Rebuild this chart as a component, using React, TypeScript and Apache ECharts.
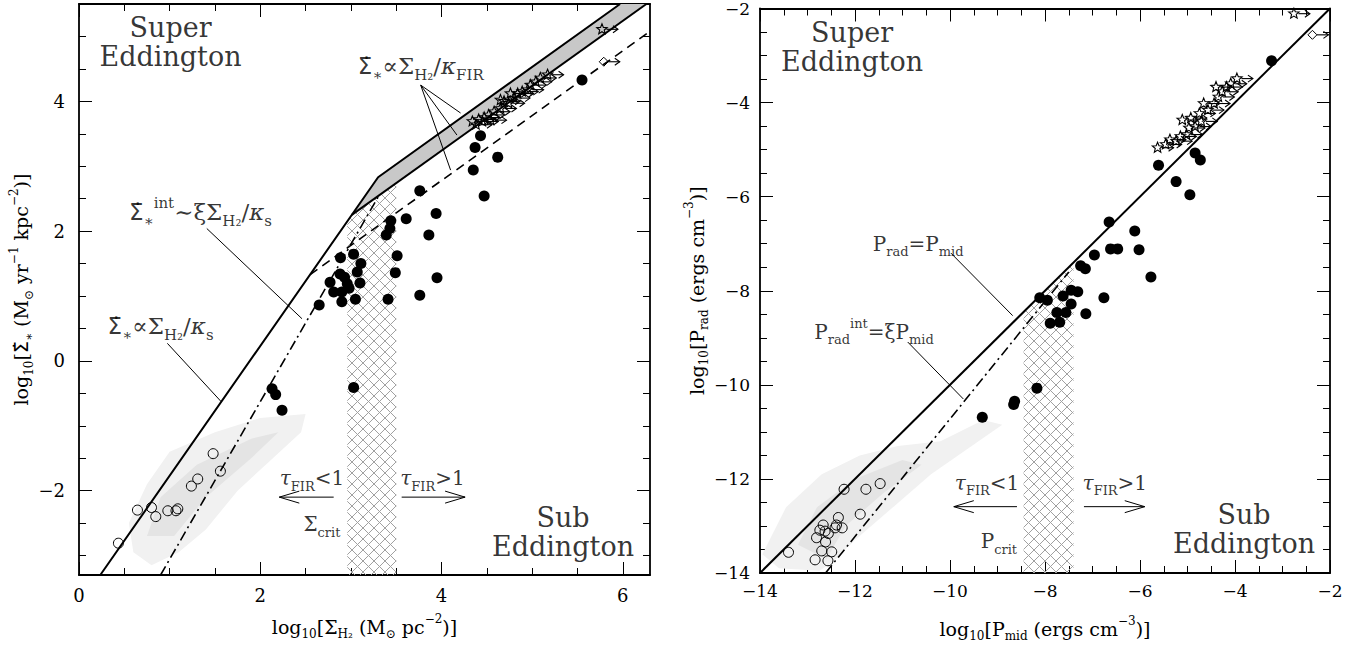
import React, { useEffect, useRef } from 'react';
import * as echarts from 'echarts';

// ---------------- LEFT PANEL DATA ----------------
const leftXMajor = [0, 2, 4, 6];
const leftXMinor = [0.5, 1, 1.5, 2.5, 3, 3.5, 4.5, 5, 5.5];
const leftYMajor = [-2, 0, 2, 4];
const leftYMinor = [-3, -2.5, -1.5, -1, -0.5, 0.5, 1, 1.5, 2.5, 3, 3.5, 4.5, 5];

const leftFilled = [
  [2.65, 0.86], [2.77, 1.21], [2.81, 1.06], [2.88, 1.34], [2.885, 1.59], [2.9, 0.91], [2.9, 1.06],
  [2.93, 1.29], [2.96, 1.19], [2.98, 1.12], [3.03, 1.645], [3.05, 0.95], [3.07, 1.37], [3.1, 1.2],
  [3.11, 1.5], [3.39, 1.94], [3.43, 2.04], [3.44, 2.16], [3.49, 1.36], [3.51, 1.62], [3.41, 0.95],
  [3.61, 2.19], [3.76, 2.62], [3.76, 1.01], [3.86, 1.94], [3.94, 2.27], [3.95, 1.28], [4.35, 2.94],
  [4.37, 3.29], [4.43, 3.47], [4.47, 2.54], [4.62, 3.14], [5.55, 4.33], [2.13, -0.43], [2.17, -0.52],
  [2.24, -0.76], [3.03, -0.41],
];
const leftOpen = [
  [0.435, -2.81], [0.645, -2.3], [0.8, -2.26], [0.847, -2.4], [0.98, -2.31], [1.07, -2.31],
  [1.09, -2.28], [1.24, -1.93], [1.31, -1.82], [1.48, -1.43], [1.56, -1.7],
];
const leftStars = [
  [4.34, 3.69], [4.41, 3.72], [4.47, 3.75], [4.52, 3.79], [4.58, 3.84], [4.65, 3.89], [4.69, 4.0],
  [4.74, 3.97], [4.8, 4.05], [4.84, 4.12], [4.89, 4.15], [4.95, 4.18], [4.98, 4.25], [5.04, 4.3],
  [5.09, 4.36], [5.17, 4.41], [4.65, 4.02], [4.76, 4.12], [4.54, 3.71], [4.45, 3.69], [4.38, 3.64],
  [5.77, 5.11],
];
const leftDiamonds = [[5.79, 4.61]];

const leftSolid = [[0.235, -3.3], [3.3, 2.83], [5.97, 5.5]];
const leftSolid2 = [[3.01, 2.25], [6.26, 5.5]];
const leftDashed = [[2.55, 1.33], [6.3, 5.08]];
const leftDashDot = [[0.9, -3.3], [3.31, 2.55]];
const leftBand = [[3.01, 2.25], [3.3, 2.83], [5.97, 5.5], [6.26, 5.5]];
const leftHatch = [[2.96, -3.3], [2.96, 2.15], [3.01, 2.25], [3.5, 2.74], [3.5, -3.3]];
const leftCloudOuter = [
  [0.6, -2.95], [0.55, -2.5], [0.75, -1.9], [1.0, -1.4], [1.5, -1.1], [2.0, -0.88], [2.5, -0.82],
  [2.45, -1.1], [2.1, -1.55], [1.75, -2.0], [1.4, -2.6], [1.1, -2.95], [0.8, -3.15],
];
const leftCloudCore = [
  [0.75, -2.7], [0.9, -2.1], [1.3, -1.6], [1.9, -1.2], [2.2, -1.1], [1.9, -1.5], [1.4, -2.1], [1.05, -2.7],
];
const leftPointers = [
  [[3.77, 4.25], [4.21, 3.82]],
  [[3.77, 4.25], [4.17, 3.48]],
  [[3.77, 4.25], [4.1, 2.94]],
  [[1.41, 2.04], [2.46, 0.65]],
  [[0.975, 0.27], [1.57, -0.63]],
];
const leftArrows = [[2.81, -2.1, 2.21, -2.1], [3.56, -2.1, 4.26, -2.1]];

// ---------------- RIGHT PANEL DATA ----------------
const rightMajor = [-14, -12, -10, -8, -6, -4, -2];
const rightMinor = [
  -13.5, -13, -12.5, -11.5, -11, -10.5, -9.5, -9, -8.5, -7.5, -7, -6.5, -5.5, -5, -4.5, -3.5, -3, -2.5,
];
const rightFilled = [
  [-3.23, -3.11], [-5.61, -5.33], [-4.84, -5.07], [-4.73, -5.22], [-5.24, -5.68], [-4.95, -5.96],
  [-6.65, -6.54], [-6.11, -6.73], [-6.62, -7.11], [-6.47, -7.11], [-6.02, -7.13], [-6.96, -7.24],
  [-7.25, -7.47], [-7.15, -7.53], [-5.77, -7.71], [-7.45, -7.99], [-7.31, -8.02], [-8.11, -8.15],
  [-7.95, -8.2], [-7.62, -8.11], [-6.76, -8.15], [-7.45, -8.28], [-7.14, -8.49], [-7.75, -8.46],
  [-7.56, -8.46], [-7.89, -8.69], [-7.69, -8.67], [-8.17, -10.07], [-8.64, -10.35], [-8.66, -10.42],
  [-9.32, -10.69],
];
const rightOpen = [
  [-13.4, -13.56], [-12.23, -12.22], [-11.77, -12.22], [-11.47, -12.1], [-11.89, -12.75], [-12.35, -12.82],
  [-12.67, -12.98], [-12.42, -13.04], [-12.27, -13.04], [-12.74, -13.09], [-12.56, -13.16], [-12.81, -13.25],
  [-12.62, -13.34], [-12.7, -13.53], [-12.49, -13.55], [-12.84, -13.72], [-12.57, -13.74], [-12.63, -13.11],
  [-12.39, -12.98],
];
const rightStars = [
  [-5.63, -4.96], [-5.46, -4.89], [-5.37, -4.79], [-5.24, -4.82], [-5.15, -4.72], [-5.02, -4.68],
  [-4.97, -4.54], [-4.84, -4.51], [-4.71, -4.4], [-4.75, -4.23], [-4.57, -4.16], [-4.44, -4.02],
  [-4.35, -3.88], [-4.27, -3.77], [-4.18, -3.67], [-4.09, -3.6], [-3.96, -3.49], [-4.66, -4.02],
  [-4.4, -3.67], [-5.11, -4.37], [-4.93, -4.33], [-2.76, -2.11],
];
const rightDiamonds = [[-2.37, -2.56]];
const rightSolid = [[-14, -14], [-2, -2]];
const rightDashDot = [[-12.62, -14], [-7.5, -7.6]];
const rightHatch = [[-8.45, -14], [-8.45, -8.45], [-7.4, -7.4], [-7.4, -14]];
const rightCloudOuter = [
  [-13.95, -13.6], [-13.45, -12.6], [-12.7, -11.9], [-11.9, -11.5], [-11.1, -11.3], [-10.2, -11.2],
  [-9.3, -10.75], [-8.9, -10.85], [-9.4, -11.2], [-10.4, -11.9], [-11.2, -12.6], [-12.0, -13.3],
  [-12.45, -13.75], [-12.75, -13.95], [-13.6, -13.9],
];
const rightCloudCore = [
  [-13.2, -13.4], [-12.8, -12.6], [-12.0, -12.0], [-11.0, -11.6], [-10.6, -11.7], [-11.4, -12.3],
  [-12.2, -13.0], [-12.6, -13.7],
];
const rightPointers = [
  [[-9.98, -7.2], [-8.68, -8.53]],
  [[-10.89, -9.09], [-9.72, -10.3]],
];
const rightArrows = [[-8.59, -12.59, -9.92, -12.59], [-7.18, -12.59, -5.9, -12.59]];

// ---------------- STYLE HELPERS ----------------
const F = "'DejaVu Serif', serif";
const FS = "'DejaVu Sans', 'Noto Sans', sans-serif";

const rich = (size: number) => {
  const small = Math.round(size * 0.64);
  const drop = Math.round(size * 0.8);
  return {
    m: { fontFamily: F, fontSize: size, color: '#000' },
    g: { fontFamily: FS, fontSize: size, color: '#000' },
    k: { fontFamily: F, fontSize: size, fontStyle: 'italic', color: '#000' },
    b: { fontFamily: F, fontSize: 27, color: '#000', lineHeight: 29 },
    s: { fontFamily: F, fontSize: small, color: '#000', padding: [drop, 0, 0, 0] },
    u: { fontFamily: F, fontSize: small, color: '#000', padding: [0, 0, drop, 0] },
  };
};

const fmt = (v: number) => (v < 0 ? '\u2212' + Math.abs(v) : String(v));

function buildAxes(dim: 'x' | 'y', grid: number, min: number, max: number, majors: number[], minors: number[],
  labelSize: number, labelMargin: number, name: string, nameGap: number) {
  const posMain = dim === 'x' ? 'bottom' : 'left';
  const posOpp = dim === 'x' ? 'top' : 'right';
  const base = { type: 'value', gridIndex: grid, min, max, splitLine: { show: false }, minorSplitLine: { show: false } };
  const line = (show: boolean) => ({ show, onZero: false, lineStyle: { color: '#000', width: 1.8 } });
  const tick = (vals: number[], len: number) => ({ show: true, inside: true, length: len, customValues: vals, lineStyle: { color: '#000', width: 1 } });
  return [
    {
      ...base, position: posMain, axisLine: line(true), axisTick: tick(majors, 13),
      axisLabel: { show: true, customValues: majors, formatter: fmt, margin: labelMargin, fontFamily: F, fontSize: labelSize, color: '#000' },
      name, nameLocation: 'middle', nameGap, nameTextStyle: { rich: rich(19) },
    },
    { ...base, position: posMain, axisLine: line(false), axisTick: tick(minors, 7), axisLabel: { show: false } },
    { ...base, position: posOpp, axisLine: line(true), axisTick: tick(majors, 13), axisLabel: { show: false } },
    { ...base, position: posOpp, axisLine: line(false), axisTick: tick(minors, 7), axisLabel: { show: false } },
  ];
}

function clipLine(p0: number[], d: number[], poly: number[][]) {
  const ts: number[] = [];
  for (let i = 0; i < poly.length; i++) {
    const a = poly[i], b = poly[(i + 1) % poly.length];
    const e = [b[0] - a[0], b[1] - a[1]];
    const den = d[0] * e[1] - d[1] * e[0];
    if (Math.abs(den) < 1e-9) continue;
    const w = [a[0] - p0[0], a[1] - p0[1]];
    const t = (w[0] * e[1] - w[1] * e[0]) / den;
    const s = (w[0] * d[1] - w[1] * d[0]) / den;
    if (s >= -1e-9 && s <= 1 + 1e-9) ts.push(t);
  }
  if (ts.length < 2) return null;
  const t0 = Math.min(...ts), t1 = Math.max(...ts);
  if (t1 - t0 < 0.5) return null;
  return [[p0[0] + d[0] * t0, p0[1] + d[1] * t0], [p0[0] + d[0] * t1, p0[1] + d[1] * t1]];
}

function polySeries(ax: number, poly: number[][], fill: string, z: number) {
  return {
    type: 'custom', xAxisIndex: ax, yAxisIndex: ax, data: poly, z, silent: true, clip: true,
    renderItem: (params: any, api: any) => params.dataIndex === 0
      ? { type: 'polygon', shape: { points: poly.map((p) => api.coord(p)) }, style: { fill, stroke: 'none' } }
      : null,
  };
}

function hatchSeries(ax: number, poly: number[][]) {
  return {
    type: 'custom', xAxisIndex: ax, yAxisIndex: ax, data: poly, z: 2, silent: true, clip: true,
    renderItem: (params: any, api: any) => {
      if (params.dataIndex !== 0) return null;
      const pts = poly.map((p) => api.coord(p));
      const children: any[] = [];
      const step = 11;
      for (const dir of [1, -1]) {
        const cs = pts.map((p: number[]) => p[1] - dir * p[0]);
        const cmin = Math.min(...cs), cmax = Math.max(...cs);
        for (let c = Math.ceil(cmin / step) * step; c <= cmax; c += step) {
          const seg = clipLine([0, c], [1, dir], pts);
          if (seg) children.push({ type: 'line', shape: { x1: seg[0][0], y1: seg[0][1], x2: seg[1][0], y2: seg[1][1] }, style: { stroke: '#a0a0a0', lineWidth: 1 } });
        }
      }
      return { type: 'group', children };
    },
  };
}

function lineSeries(ax: number, pts: number[][], width: number, type: any = 'solid', z = 5) {
  return {
    type: 'line', xAxisIndex: ax, yAxisIndex: ax, data: pts, showSymbol: false, symbol: 'none', silent: true, z, clip: true,
    lineStyle: { color: '#000', width, type },
  };
}

function limitSeries(ax: number, pts: number[][], kind: 'star' | 'diamond') {
  return {
    type: 'custom', xAxisIndex: ax, yAxisIndex: ax, data: pts, z: 7, silent: true, clip: false,
    renderItem: (params: any, api: any) => {
      const c = api.coord([api.value(0), api.value(1)]);
      const cx = c[0], cy = c[1];
      const children: any[] = [];
      const r = 4.5;
      if (kind === 'star') {
        const sp: number[][] = [];
        for (let i = 0; i < 10; i++) {
          const ang = -Math.PI / 2 + (i * Math.PI) / 5;
          const rr = i % 2 === 0 ? 5.5 : 2.4;
          sp.push([cx + rr * Math.cos(ang), cy + rr * Math.sin(ang)]);
        }
        children.push({ type: 'polygon', shape: { points: sp }, style: { fill: 'none', stroke: '#000', lineWidth: 1.1 } });
      } else {
        children.push({ type: 'polygon', shape: { points: [[cx - r, cy], [cx, cy - r], [cx + r, cy], [cx, cy + r]] }, style: { fill: 'none', stroke: '#000', lineWidth: 1 } });
      }
      children.push({ type: 'polyline', shape: { points: [[cx + r, cy], [cx + 16, cy]] }, style: { stroke: '#000', lineWidth: 1.1, fill: 'none' } });
      children.push({ type: 'polyline', shape: { points: [[cx + 11, cy - 3.5], [cx + 16, cy], [cx + 11, cy + 3.5]] }, style: { stroke: '#000', lineWidth: 1.1, fill: 'none' } });
      return { type: 'group', children };
    },
  };
}

function arrowSeries(ax: number, rows: number[][]) {
  return {
    type: 'custom', xAxisIndex: ax, yAxisIndex: ax, data: rows, z: 6, silent: true,
    encode: { x: [0, 2], y: [1, 3] },
    renderItem: (params: any, api: any) => {
      const p1 = api.coord([api.value(0), api.value(1)]);
      const p2 = api.coord([api.value(2), api.value(3)]);
      const dx = p2[0] - p1[0], dy = p2[1] - p1[1];
      const L = Math.hypot(dx, dy);
      const ux = dx / L, uy = dy / L;
      const hl = 20, hw = 6;
      const b = [p2[0] - ux * hl, p2[1] - uy * hl];
      return {
        type: 'group', children: [
          { type: 'line', shape: { x1: p1[0], y1: p1[1], x2: p2[0], y2: p2[1] }, style: { stroke: '#000', lineWidth: 1 } },
          { type: 'polyline', shape: { points: [[b[0] - uy * hw, b[1] + ux * hw], p2, [b[0] + uy * hw, b[1] - ux * hw]] }, style: { stroke: '#000', lineWidth: 1, fill: 'none' } },
        ],
      };
    },
  };
}

function textSeries(ax: number, pos: number[], text: string, size = 20) {
  return {
    type: 'scatter', xAxisIndex: ax, yAxisIndex: ax, data: [pos], symbol: 'circle', symbolSize: 0,
    itemStyle: { color: 'rgba(0,0,0,0)' }, silent: true, z: 10,
    label: { show: true, position: 'inside', formatter: text, rich: rich(size), align: 'center', verticalAlign: 'middle' },
  };
}

function scatterSeries(ax: number, pts: number[][], open: boolean) {
  return {
    type: 'scatter', xAxisIndex: ax, yAxisIndex: ax, data: pts, symbol: 'circle', symbolSize: open ? 10 : 11, silent: true, z: 8,
    itemStyle: open
      ? { color: 'rgba(0,0,0,0)', borderColor: '#000', borderWidth: 1, opacity: 1 }
      : { color: '#000', opacity: 1 },
  };
}

// ---------------- TEXT ----------------
const leftYName = '{m|log}{s|10}{m|[}{g|Σ̇}{s|∗}{m| (M}{s|⊙}{m| yr}{u|−1}{m| kpc}{u|−2}{m|)]}';
const leftXName = '{m|log}{s|10}{m|[Σ}{s|H₂}{m| (M}{s|⊙}{m| pc}{u|−2}{m|)]}';
const rightYName = '{m|log}{s|10}{m|[P}{s|rad}{m| (ergs cm}{u|−3}{m|)]}';
const rightXName = '{m|log}{s|10}{m|[P}{s|mid}{m| (ergs cm}{u|−3}{m|)]}';

export default function App() {
  const ref = useRef<HTMLDivElement>(null);
  useEffect(() => {
    document.body.style.margin = '0';
    const chart = echarts.init(ref.current!, null, { renderer: 'svg' });
    const L = 0, R = 4;
    const option: any = {
      animation: false,
      backgroundColor: '#fff',
      grid: [
        { left: 79, top: 4, width: 571, height: 571 },
        { left: 760, top: 4, width: 570, height: 571 },
      ],
      xAxis: [
        ...buildAxes('x', 0, 0, 6.3, leftXMajor, leftXMinor, 18, 11, leftXName, 38),
        ...buildAxes('x', 1, -14, -2, rightMajor, rightMinor, 17, 9, rightXName, 42),
      ],
      yAxis: [
        ...buildAxes('y', 0, -3.3, 5.5, leftYMajor, leftYMinor, 18, 14, leftYName, 44),
        ...buildAxes('y', 1, -14, -2, rightMajor, rightMinor, 17, 10, rightYName, 31),
      ],
      series: [
        polySeries(L, leftCloudOuter, '#f1f1f1', 1),
        polySeries(L, leftCloudCore, '#e4e4e4', 1),
        polySeries(R, rightCloudOuter, '#f1f1f1', 1),
        polySeries(R, rightCloudCore, '#e4e4e4', 1),
        hatchSeries(L, leftHatch),
        hatchSeries(R, rightHatch),
        polySeries(L, leftBand, '#c8c8c8', 3),
        lineSeries(L, leftSolid, 2),
        lineSeries(L, leftSolid2, 2),
        lineSeries(L, leftDashed, 1.6, [9, 6]),
        lineSeries(L, leftDashDot, 1.6, [10, 4, 2, 4]),
        lineSeries(R, rightSolid, 2),
        lineSeries(R, rightDashDot, 1.6, [10, 4, 2, 4]),
        ...leftPointers.map((p) => lineSeries(L, p, 1)),
        ...rightPointers.map((p) => lineSeries(R, p, 1)),
        arrowSeries(L, leftArrows),
        arrowSeries(R, rightArrows),
        scatterSeries(L, leftOpen, true),
        scatterSeries(L, leftFilled, false),
        scatterSeries(R, rightOpen, true),
        scatterSeries(R, rightFilled, false),
        limitSeries(L, leftStars, 'star'),
        limitSeries(L, leftDiamonds, 'diamond'),
        limitSeries(R, rightStars, 'star'),
        limitSeries(R, rightDiamonds, 'diamond'),
        textSeries(L, [1.01, 4.92], '{b|Super}\n{b|Eddington}'),
        textSeries(L, [5.34, -2.64], '{b|Sub}\n{b|Eddington}'),
        textSeries(L, [3.77, 4.55], '{g|Σ̇}{s|∗}{m|∝Σ}{s|H₂}{m|/}{k|κ}{s|FIR}', 23),
        textSeries(L, [1.34, 2.29], '{g|Σ̇}{s|∗}{u|int}{m|∼ξΣ}{s|H₂}{m|/}{k|κ}{s|s}', 23),
        textSeries(L, [0.9, 0.53], '{g|Σ̇}{s|∗}{m|∝Σ}{s|H₂}{m|/}{k|κ}{s|s}', 23),
        textSeries(L, [2.57, -1.81], '{k|τ}{s|FIR}{m|<1}'),
        textSeries(L, [3.9, -1.81], '{k|τ}{s|FIR}{m|>1}'),
        textSeries(L, [2.68, -2.52], '{m|Σ}{s|crit}'),
        textSeries(R, [-12.06, -2.82], '{b|Super}\n{b|Eddington}'),
        textSeries(R, [-3.81, -13.07], '{b|Sub}\n{b|Eddington}'),
        textSeries(R, [-10.67, -7.0], '{m|P}{s|rad}{m|=P}{s|mid}'),
        textSeries(R, [-11.6, -8.87], '{m|P}{s|rad}{u|int}{m|=ξP}{s|mid}'),
        textSeries(R, [-9.22, -12.08], '{k|τ}{s|FIR}{m|<1}'),
        textSeries(R, [-6.53, -12.08], '{k|τ}{s|FIR}{m|>1}'),
        textSeries(R, [-8.97, -13.32], '{m|P}{s|crit}'),
      ],
    };
    chart.setOption(option);
    return () => chart.dispose();
  }, []);
  return <div ref={ref} style={{ width: 1358, height: 647 }} />;
}
